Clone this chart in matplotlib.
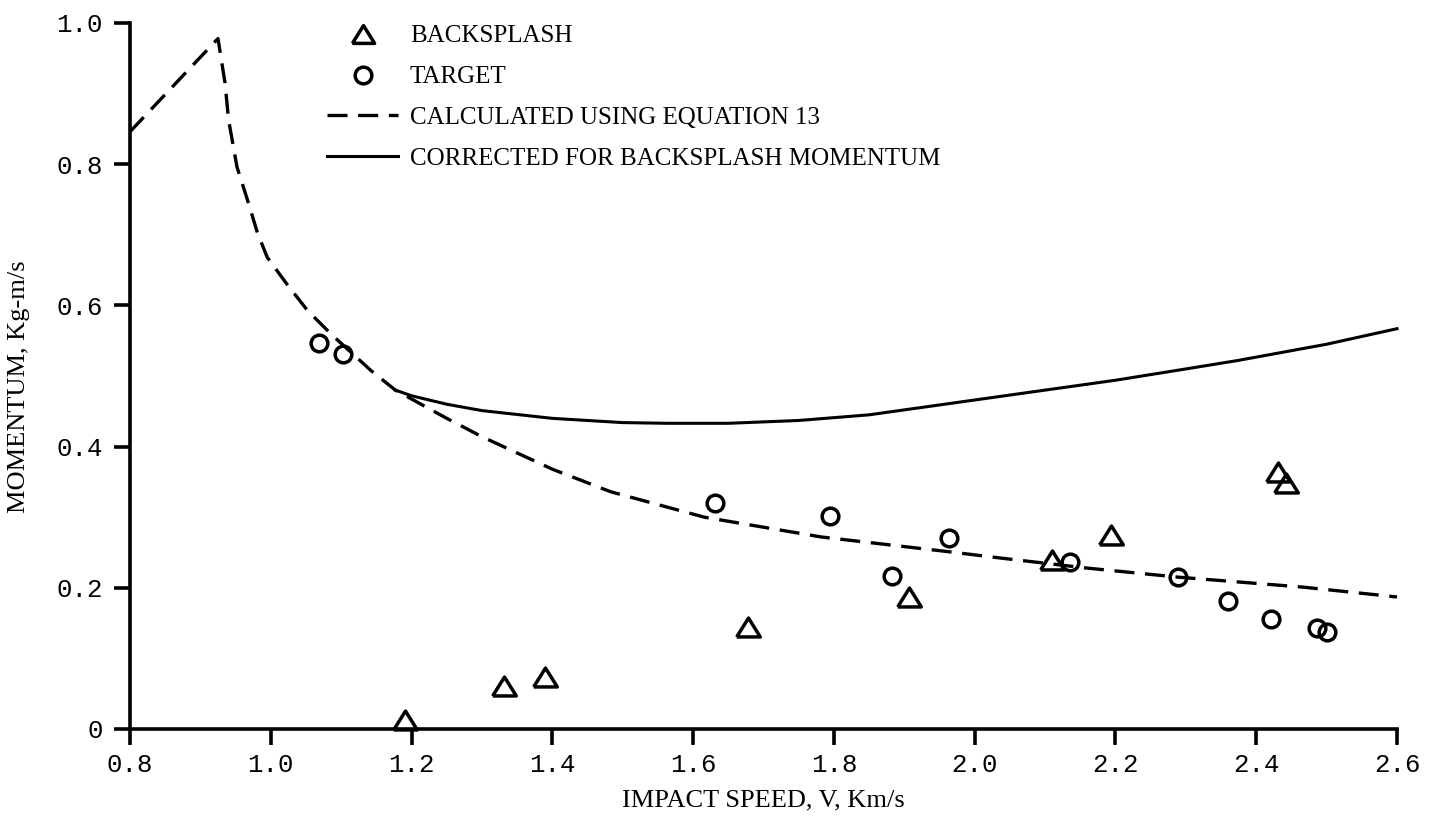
import matplotlib
matplotlib.use("Agg")
import matplotlib.pyplot as plt
from matplotlib.lines import Line2D
from matplotlib.markers import MarkerStyle

# ---------------- data ----------------
backsplash_v = [1.191, 1.331, 1.389, 1.678, 1.906, 2.110, 2.194, 2.431, 2.443]
backsplash_p = [0.013, 0.061, 0.074, 0.144, 0.187, 0.239, 0.275, 0.364, 0.348]

target_v = [1.068, 1.103, 1.631, 1.794, 1.883, 1.964, 2.135, 2.289, 2.360, 2.421, 2.487, 2.500]
target_p = [0.547, 0.531, 0.320, 0.302, 0.217, 0.270, 0.237, 0.215, 0.181, 0.156, 0.143, 0.137]

calc_v = [0.800, 0.925, 0.935, 0.940, 0.952, 0.967, 0.981, 0.995, 1.023, 1.052,
          1.085, 1.142, 1.177, 1.250, 1.300, 1.400, 1.483, 1.616,
          1.782, 1.964, 2.038, 2.159, 2.290, 2.466, 2.600]
calc_p = [0.846, 0.978, 0.915, 0.863, 0.796, 0.749, 0.703, 0.668, 0.630, 0.593,
          0.560, 0.508, 0.480, 0.440, 0.414, 0.368, 0.336, 0.300,
          0.272, 0.251, 0.242, 0.228, 0.215, 0.201, 0.187]

corr_v = [1.177, 1.200, 1.250, 1.300, 1.400, 1.500, 1.564, 1.650, 1.750, 1.850,
          1.900, 2.000, 2.100, 2.200, 2.300, 2.374, 2.500, 2.600]
corr_p = [0.480, 0.472, 0.460, 0.451, 0.440, 0.434, 0.433, 0.433, 0.437, 0.445,
          0.452, 0.466, 0.480, 0.494, 0.510, 0.522, 0.545, 0.567]

x_ticks = [0.8, 1.0, 1.2, 1.4, 1.6, 1.8, 2.0, 2.2, 2.4, 2.6]
x_ticklabels = ["0.8", "1.0", "1.2", "1.4", "1.6", "1.8", "2.0", "2.2", "2.4", "2.6"]
y_ticks = [0.0, 0.2, 0.4, 0.6, 0.8, 1.0]
y_ticklabels = ["0", "0.2", "0.4", "0.6", "0.8", "1.0"]

legend_labels = ["BACKSPLASH", "TARGET", "CALCULATED USING EQUATION 13",
                 "CORRECTED FOR BACKSPLASH MOMENTUM"]
x_label = "IMPACT SPEED, V, Km/s"
y_label = "MOMENTUM, Kg-m/s"

# ---------------- figure ----------------
W, H = 1436, 823
fig = plt.figure(figsize=(W / 100, H / 100), dpi=100)
ax = fig.add_axes([130 / W, 1 - 729 / H, (1397 - 130) / W, (729 - 23) / H])

serif = ["Liberation Serif", "DejaVu Serif"]
mono = ["Liberation Mono", "DejaVu Sans Mono"]

tri = MarkerStyle([(-1, -0.8), (1, -0.8), (0, 0.8), (-1, -0.8)], joinstyle="miter")

lw_curve = 2.4
dash = (0, (6, 3.2))
ax.plot(calc_v, calc_p, color="black", lw=lw_curve, ls=dash,
        clip_on=False, solid_joinstyle="round")
ax.plot(corr_v, corr_p, color="black", lw=2.2, clip_on=False)
ax.plot(backsplash_v, backsplash_p, ls="none", marker=tri, ms=17,
        mfc="none", mec="black", mew=2.5, clip_on=False)
ax.plot(target_v, target_p, ls="none", marker="o", ms=12,
        mfc="none", mec="black", mew=2.5, clip_on=False)

ax.set_xlim(0.8, 2.6)
ax.set_ylim(0.0, 1.0)

for s in ["top", "right"]:
    ax.spines[s].set_visible(False)
for s in ["left", "bottom"]:
    ax.spines[s].set_linewidth(2.6)
    ax.spines[s].set_capstyle("projecting")

ax.set_xticks(x_ticks)
ax.set_xticklabels(x_ticklabels, fontfamily=mono, fontsize=18.5)
ax.set_yticks(y_ticks)
ax.set_yticklabels(y_ticklabels, fontfamily=mono, fontsize=18.5)
ax.tick_params(axis="both", direction="out", length=11.5, width=2.6, color="black")
ax.tick_params(axis="x", pad=6)
ax.tick_params(axis="y", pad=8)

ax.set_xlabel(x_label, fontfamily=serif, fontsize=19)
ax.xaxis.set_label_coords(0.5, -0.085)
ax.set_ylabel(y_label, fontfamily=serif, fontsize=19)
ax.yaxis.set_label_coords(-0.079, 0.485)

handles = [
    Line2D([], [], ls="none", marker=tri, ms=16, mfc="none", mec="black", mew=2.5),
    Line2D([], [], ls="none", marker="o", ms=12, mfc="none", mec="black", mew=2.5),
    Line2D([], [], color="black", lw=lw_curve, ls=dash),
    Line2D([], [], color="black", lw=2.2),
]
fs_px = 18 * 100 / 72
ax.legend(handles, legend_labels, loc="upper left",
          bbox_to_anchor=(327 / W, 1 - 25 / H), bbox_transform=fig.transFigure,
          frameon=False, borderpad=0, borderaxespad=0,
          handlelength=71 / fs_px, handletextpad=12 / fs_px, labelspacing=0.73,
          prop={"family": serif, "size": 18})

fig.savefig("out.png", dpi=100, facecolor="white")
